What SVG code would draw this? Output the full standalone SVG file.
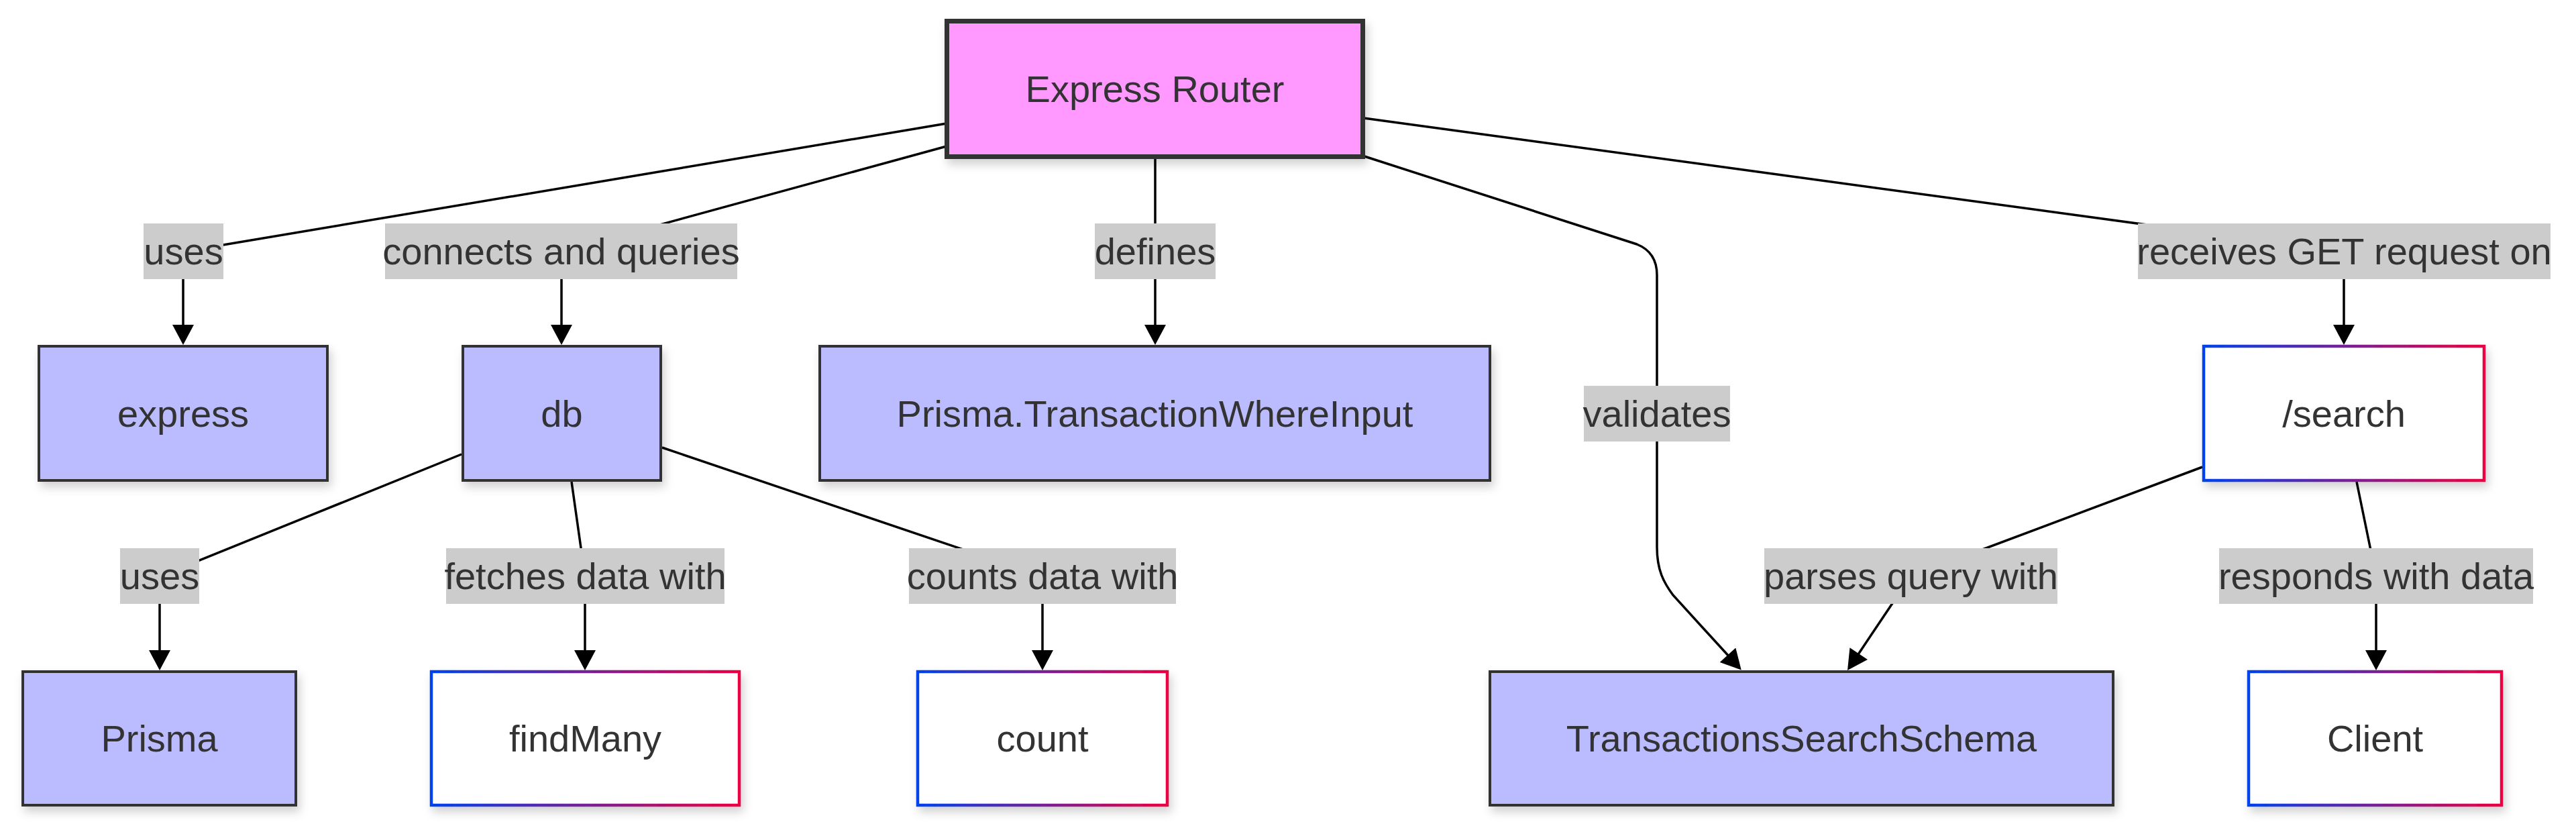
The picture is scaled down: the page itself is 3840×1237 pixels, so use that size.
<svg xmlns="http://www.w3.org/2000/svg" width="3840" height="1237" viewBox="0 0 3840 1237">
<defs>
<style>
.lav{fill:#bbbbff;stroke:#333333;stroke-width:4;filter:url(#sh)}
.grad{fill:#ffffff;stroke-width:4.5;filter:url(#sh)}
.router{fill:#ff99ff;stroke:#333333;stroke-width:7;filter:url(#sh)}
.nt{font-family:"Liberation Sans",Arial,Helvetica,sans-serif;font-size:56px;fill:#333333;text-anchor:middle}
.lb{fill:#cccccc}
.edge{fill:none;stroke:#000000;stroke-width:3.5}
</style>
<filter id="sh" x="-10%" y="-10%" width="125%" height="130%">
<feDropShadow dx="4" dy="8" stdDeviation="7" flood-color="#000000" flood-opacity="0.18"/>
</filter>
<linearGradient id="g1" x1="0" y1="0" x2="1" y2="0">
<stop offset="0" stop-color="#0042eb"/>
<stop offset="1" stop-color="#eb0042"/>
</linearGradient>
<marker id="arr" markerUnits="userSpaceOnUse" markerWidth="32" markerHeight="32" viewBox="0 0 30 32" refX="20" refY="16" orient="auto">
<path d="M0,0 L30,16 L0,32 z" fill="#000000"/>
</marker>
</defs>
<rect width="3840" height="1237" fill="#ffffff"/>

<g id="connectors">
<path class="edge" d="M1411,184 L273,375 L273,504" marker-end="url(#arr)"/>
<path class="edge" d="M1411,218 L837,375 L837,504" marker-end="url(#arr)"/>
<path class="edge" d="M1722,235 L1722,504" marker-end="url(#arr)"/>
<path class="edge" d="M2033,176 L3494,375 L3494,504" marker-end="url(#arr)"/>
<path class="edge" d="M2034,233 L2440,364 Q2470,376 2470,410 L2470,815 C2470,850 2480,868 2494,887 L2589,991" marker-end="url(#arr)"/>
<path class="edge" d="M688,677 L238,859 L238,989" marker-end="url(#arr)"/>
<path class="edge" d="M852,718 L872,859 L872,989" marker-end="url(#arr)"/>
<path class="edge" d="M987,667 L1554,859 L1554,989" marker-end="url(#arr)"/>
<path class="edge" d="M3283,696 L2848,859 L2759.6,990.7" marker-end="url(#arr)"/>
<path class="edge" d="M3513,718 L3542,859 L3542,989" marker-end="url(#arr)"/>
</g>

<g id="edge-labels">
<g id="lbl-uses1"><rect class="lb" x="214" y="333" width="119" height="83"/><text class="nt" x="273.5" y="394">uses</text></g>
<g id="lbl-connects"><rect class="lb" x="574" y="333" width="525" height="83"/><text class="nt" x="836.5" y="394">connects and queries</text></g>
<g id="lbl-defines"><rect class="lb" x="1632" y="333" width="180" height="83"/><text class="nt" x="1722" y="394">defines</text></g>
<g id="lbl-receives"><rect class="lb" x="3187" y="333" width="615" height="83"/><text class="nt" x="3494.5" y="394">receives GET request on</text></g>
<g id="lbl-validates"><rect class="lb" x="2361" y="575" width="218" height="83"/><text class="nt" x="2470" y="636">validates</text></g>
<g id="lbl-uses2"><rect class="lb" x="179" y="817" width="118" height="83"/><text class="nt" x="238" y="878">uses</text></g>
<g id="lbl-fetches"><rect class="lb" x="665" y="817" width="415" height="83"/><text class="nt" x="872.5" y="878">fetches data with</text></g>
<g id="lbl-counts"><rect class="lb" x="1355" y="817" width="398" height="83"/><text class="nt" x="1554" y="878">counts data with</text></g>
<g id="lbl-parses"><rect class="lb" x="2630" y="817" width="437" height="83"/><text class="nt" x="2848.5" y="878">parses query with</text></g>
<g id="lbl-responds"><rect class="lb" x="3308" y="817" width="468" height="83"/><text class="nt" x="3542" y="878">responds with data</text></g>
</g>

<g id="node-router"><rect class="router" x="1411.5" y="31.5" width="620" height="202"/><text class="nt" x="1721.5" y="152">Express Router</text></g>
<g id="node-express"><rect class="lav" x="58" y="516" width="430" height="200"/><text class="nt" x="273" y="636">express</text></g>
<g id="node-db"><rect class="lav" x="690" y="516" width="295" height="200"/><text class="nt" x="837.5" y="636">db</text></g>
<g id="node-where"><rect class="lav" x="1222" y="516" width="999" height="200"/><text class="nt" x="1721.5" y="636">Prisma.TransactionWhereInput</text></g>
<g id="node-search"><rect class="grad" stroke="url(#g1)" x="3285" y="516" width="418" height="200"/><text class="nt" x="3494" y="636">/search</text></g>
<g id="node-prisma"><rect class="lav" x="34" y="1001" width="407" height="199"/><text class="nt" x="237.5" y="1120">Prisma</text></g>
<g id="node-findmany"><rect class="grad" stroke="url(#g1)" x="643" y="1001" width="459" height="199"/><text class="nt" x="872.5" y="1120">findMany</text></g>
<g id="node-count"><rect class="grad" stroke="url(#g1)" x="1368" y="1001" width="372" height="199"/><text class="nt" x="1554" y="1120">count</text></g>
<g id="node-schema"><rect class="lav" x="2221" y="1001" width="929" height="199"/><text class="nt" x="2685.5" y="1120">TransactionsSearchSchema</text></g>
<g id="node-client"><rect class="grad" stroke="url(#g1)" x="3352" y="1001" width="377" height="199"/><text class="nt" x="3540.5" y="1120">Client</text></g>
</svg>
